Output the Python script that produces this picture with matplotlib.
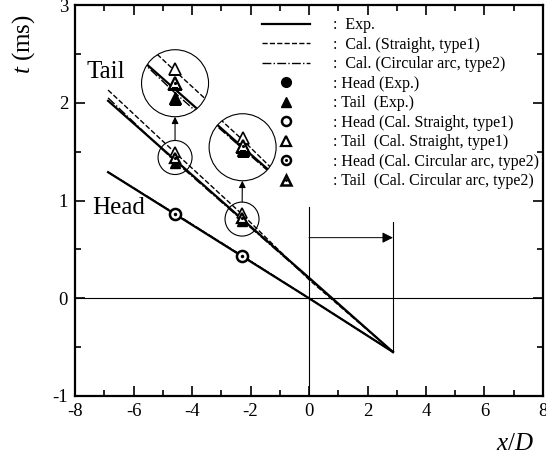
import matplotlib
matplotlib.use('Agg')
import matplotlib.pyplot as plt
from matplotlib.lines import Line2D
from matplotlib.patches import Circle
from matplotlib.transforms import ScaledTranslation

plt.rcParams['font.family'] = 'Liberation Serif'
plt.rcParams['mathtext.fontset'] = 'custom'
plt.rcParams['mathtext.rm'] = 'Liberation Serif'
plt.rcParams['mathtext.it'] = 'Liberation Serif:italic'
plt.rcParams['axes.unicode_minus'] = False

# lines (read at the marker positions and at both ends)
x_line        = [-6.87, -4.58, -2.29, 0.0, 2.87]
head_exp      = [1.29, 0.86, 0.43, 0.0, -0.55]
head_straight = [1.29, 0.865, 0.435, 0.0, -0.55]
head_circular = [1.29, 0.865, 0.435, 0.0, -0.55]
tail_exp      = [2.02, 1.415, 0.81, 0.21, -0.55]
tail_straight = [2.13, 1.49, 0.86, 0.19, -0.55]
tail_circular = [2.05, 1.40, 0.80, 0.20, -0.55]

# markers
x_pts          = [-4.58, -2.29]
head_str_pts   = [0.865, 0.435]
head_circ_pts  = [0.865, 0.435]
tail_exp_pts   = [1.38, 0.79]
tail_str_pts   = [1.50, 0.87]
tail_circ_pts  = [1.44, 0.82]

# guides: x=0 line, x=2.87 line, arrow level
x_front    = [0.0, 2.87]
front_top  = [0.93, 0.78]
front_bot  = [-1.0, -0.55]
arrow_t    = 0.62

# magnifier: small circle centre (data), big circle centre (data), zoom factor
mag_src = [(-4.58, 1.44), (-2.29, 0.81)]
mag_dst = [(-4.58, 2.20), (-2.27, 1.545)]
mag_k   = [2.5, 1.5]

fig = plt.figure(figsize=(5.46, 4.57), dpi=100)
ax = fig.add_axes([0.1374, 0.1335, 0.8571, 0.8555])
ax.set_xlim(-8, 8)
ax.set_ylim(-1, 3)

ax.axhline(0, color='black', lw=0.8, zorder=1)
for xf, a, b in zip(x_front, front_bot, front_top):
    ax.plot([xf, xf], [a, b], color='black', lw=0.8, zorder=1)
ax.annotate('', xy=(x_front[1], arrow_t), xytext=(x_front[0], arrow_t),
            arrowprops=dict(arrowstyle='-|>', color='black', lw=0.7,
                            mutation_scale=16, shrinkA=0, shrinkB=0))

def draw_lines(axis, tf, **kw):
    fx, fy = tf
    l = []
    l += axis.plot(fx(x_line), fy(head_straight), 'k--', lw=1.0, **kw)
    l += axis.plot(fx(x_line), fy(head_circular), 'k-.', lw=1.0, **kw)
    l += axis.plot(fx(x_line), fy(head_exp), 'k-', lw=1.6, **kw)
    l += axis.plot(fx(x_line), fy(tail_straight), 'k--', lw=1.0, **kw)
    l += axis.plot(fx(x_line), fy(tail_circular), 'k-.', lw=1.0, **kw)
    l += axis.plot(fx(x_line), fy(tail_exp), 'k-', lw=1.6, **kw)
    return l

def draw_tail_markers(axis, tf, ms=7, **kw):
    fx, fy = tf
    l = []
    l += axis.plot(fx(x_pts), fy(tail_str_pts), '^', ms=ms, mfc='white', mec='black', mew=1.2, ls='none', **kw)
    l += axis.plot(fx(x_pts), fy(tail_exp_pts), '^', ms=ms, mfc='black', mec='black', ls='none', **kw)
    l += axis.plot(fx(x_pts), fy(tail_circ_pts), '^', ms=ms, mfc='white', mec='black', mew=1.6, ls='none', **kw)
    l += axis.plot(fx(x_pts), fy(tail_circ_pts), '.', ms=2.5, color='black', ls='none', **kw)
    return l

ident = (lambda v: v, lambda v: v)
draw_lines(ax, ident, zorder=2)
draw_tail_markers(ax, ident, zorder=3)
ax.plot(x_pts, head_str_pts, 'o', ms=8, mfc='white', mec='black', mew=1.8, ls='none', zorder=3)
ax.plot(x_pts, head_circ_pts, '.', ms=3, color='black', ls='none', zorder=4)

# magnifiers
r_big, r_small = 0.335, 0.17   # inches
for (sx, st), (dx, dt), k in zip(mag_src, mag_dst, mag_k):
    small = Circle((0, 0), r_small, transform=fig.dpi_scale_trans + ScaledTranslation(sx, st, ax.transData),
                   fill=False, ec='black', lw=0.8, zorder=5)
    ax.add_patch(small)
    big = Circle((0, 0), r_big, transform=fig.dpi_scale_trans + ScaledTranslation(dx, dt, ax.transData),
                 fc='white', ec='black', lw=0.8, zorder=6)
    ax.add_patch(big)
    tf = (lambda v, sx=sx, dx=dx, k=k: [dx + k * (a - sx) for a in v],
          lambda v, st=st, dt=dt, k=k: [dt + k * (a - st) for a in v])
    for art in draw_lines(ax, tf, zorder=7) + draw_tail_markers(ax, tf, ms=8, zorder=8):
        art.set_clip_path(big)
    ax.annotate('', xy=(dx, dt), xytext=(sx, st),
                arrowprops=dict(arrowstyle='-|>', color='black', lw=0.8, mutation_scale=10,
                                shrinkA=r_small * 72, shrinkB=r_big * 72), zorder=6)

ax.text(-7.6, 2.31, 'Tail', fontsize=18, va='center', ha='left')
ax.text(-7.42, 0.92, 'Head', fontsize=18, va='center', ha='left')

ax.set_xticks(range(-8, 9, 2))
ax.set_xticks(range(-7, 8, 2), minor=True)
ax.set_yticks([-1, 0, 1, 2, 3])
ax.set_yticks([-0.5, 0.5, 1.5, 2.5], minor=True)
ax.tick_params(which='both', direction='in', top=True, right=True, labelsize=13.5, width=1.2)
ax.tick_params(which='major', length=7, pad=5)
ax.tick_params(which='minor', length=4)
for s in ax.spines.values():
    s.set_linewidth(1.6)

ax.set_xlabel('$x/D$', fontsize=18)
ax.xaxis.set_label_coords(0.98, -0.095)
ax.xaxis.label.set_ha('right')
ax.set_ylabel('$t$ (ms)', fontsize=18)
ax.yaxis.set_label_coords(-0.082, 0.9)

# legend
dot_c = Line2D([], [], marker='.', ms=2.5, color='black', ls='none')
dot_t = Line2D([], [], marker='.', ms=2, color='black', ls='none')
handles = [
    Line2D([], [], color='black', lw=1.6),
    Line2D([], [], color='black', lw=1.0, ls='--'),
    Line2D([], [], color='black', lw=1.0, ls='-.'),
    Line2D([], [], marker='o', ms=7, color='black', ls='none'),
    Line2D([], [], marker='^', ms=7, color='black', ls='none'),
    Line2D([], [], marker='o', ms=6.5, mfc='white', mec='black', mew=1.8, ls='none'),
    Line2D([], [], marker='^', ms=6.5, mfc='white', mec='black', mew=1.6, ls='none'),
    (Line2D([], [], marker='o', ms=6.5, mfc='white', mec='black', mew=1.8, ls='none'), dot_c),
    (Line2D([], [], marker='^', ms=6.5, mfc='white', mec='black', mew=1.8, ls='none'), dot_t),
]
labels = [
    ':  Exp.',
    ':  Cal. (Straight, type1)',
    ':  Cal. (Circular arc, type2)',
    ': Head (Exp.)',
    ': Tail  (Exp.)',
    ': Head (Cal. Straight, type1)',
    ': Tail  (Cal. Straight, type1)',
    ': Head (Cal. Circular arc, type2)',
    ': Tail  (Cal. Circular arc, type2)',
]
fig.legend(handles, labels, loc='upper left', bbox_to_anchor=(0.48, 0.962),
           frameon=False, fontsize=11.5, handlelength=3.0, handletextpad=1.45,
           labelspacing=0.22, borderpad=0, borderaxespad=0)

fig.savefig('out.png', dpi=100)
